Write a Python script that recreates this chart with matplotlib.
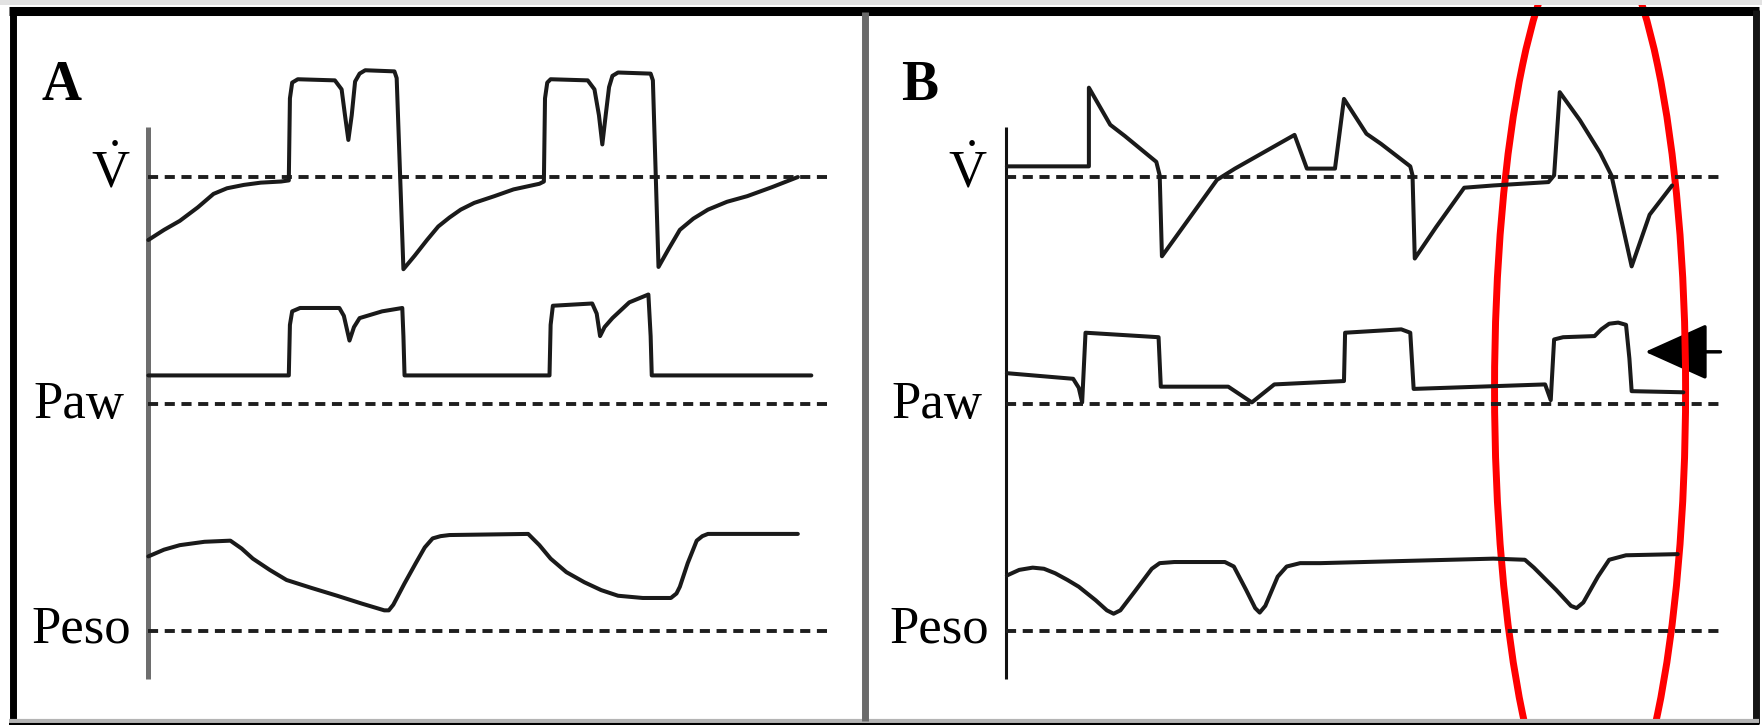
import matplotlib
matplotlib.use('Agg')
import matplotlib.pyplot as plt
from matplotlib.lines import Line2D
from matplotlib.patches import Ellipse, Rectangle, FancyArrowPatch

plt.rcParams['font.family'] = ['Liberation Serif', 'DejaVu Serif']
plt.rcParams['mathtext.fontset'] = 'custom'
plt.rcParams['mathtext.rm'] = 'Liberation Serif'

# ---- Panel A: flow (V'), airway pressure (Paw), oesophageal pressure (Peso) ----
flow_a_t = [0, 14, 28, 44, 58, 70, 85, 100, 118, 125, 126, 128, 133, 166, 172, 175, 178,
            181, 184, 188, 193, 219, 221, 227, 237, 248, 258, 268, 278, 290, 308, 325, 348,
            352, 353, 355, 358, 391, 397, 401, 404, 407, 410, 413, 418, 447, 449, 454, 463,
            473, 485, 498, 515, 533, 555, 578]
flow_a = [-56, -47, -39, -27, -15, -10, -7, -5, -4, -3, 70, 84, 87, 86, 78, 55, 33,
          55, 85, 92, 95, 94, 88, -82, -70, -56, -44, -36, -29, -23, -17, -11, -6,
          -4, 70, 84, 87, 86, 78, 55, 29, 55, 80, 90, 93, 92, 86, -80, -64,
          -47, -37, -29, -22, -17, -9, 0]

paw_a_t = [0, 125, 126, 128, 135, 170, 174, 179, 183, 188, 208, 226, 227, 228, 357, 358, 360,
           395, 399, 402, 406, 413, 428, 445, 447, 448, 590]
paw_a = [25, 25, 70, 82, 85, 85, 78, 56, 68, 76, 82, 85, 60, 25, 25, 70, 87,
         89, 80, 60, 68, 76, 90, 97, 60, 25, 25]

peso_a_t = [0, 14, 28, 50, 73, 83, 93, 108, 123, 145, 168, 190, 210, 214, 218, 228, 238,
            246, 253, 260, 268, 338, 348, 358, 372, 388, 403, 418, 440, 465, 470, 473,
            480, 488, 493, 498, 578]
peso_a = [66, 72, 76, 79, 80, 73, 64, 54, 45, 38, 31, 24, 18, 18, 23, 42, 60,
          74, 82, 84, 85, 86, 76, 64, 52, 43, 36, 31, 29, 29, 33, 39,
          60, 80, 84, 86, 86]

# ---- Panel B ----
flow_b_t = [1, 74, 74, 93, 106, 134, 137, 139, 188, 204, 257, 268, 293, 301, 321, 334, 360,
            362, 364, 383, 408, 434, 483, 488, 493, 511, 529, 539, 557, 573, 593]
flow_b = [9.5, 9.5, 79.5, 46.5, 36.5, 13.5, 1.5, -70.5, -2.5, 7.5, 37.5, 7.5, 7.5, 69.5,
          38.5, 29.5, 9.5, 1.5, -72.5, -44.5, -9.5, -7.5, -4.5, 1.5, 75.5, 50.5, 21.5,
          1.5, -79.5, -33.5, -7.5]

paw_b_t = [1, 60, 65, 68, 71, 136, 138, 198, 219, 239, 301, 302, 352, 360, 363, 480, 485,
           488, 496, 524, 530, 537, 545, 552, 555, 557, 603]
paw_b = [27, 22, 14, 1, 63, 59, 15, 15, 1, 17, 20, 63, 66, 63, 13, 17, 3,
         57, 59, 60, 66, 71, 72, 70, 40, 11, 10]

peso_b_t = [1, 12, 24, 34, 44, 55, 65, 80, 90, 96, 102, 115, 130, 137, 150, 195, 203, 214,
            222, 226, 231, 242, 250, 262, 280, 434, 462, 470, 490, 503, 508, 514, 527, 537,
            552, 598]
peso_b = [49, 54, 56, 55, 51, 45, 39, 27, 18, 15, 18, 35, 55, 60, 61, 61, 57, 36,
          20, 16, 22, 48, 57, 60, 60, 64, 63, 56, 36, 22, 20, 25, 48, 63,
          67, 68]

trace_names = [r'$\dot{\mathrm{V}}$', 'Paw', 'Peso']

# vertical placement of each trace's zero line
FLOW_Y, PAW_Y, PESO_Y = 487.5, 286, 84

fig = plt.figure(figsize=(17.62, 7.25), dpi=100)
fig.patch.set_facecolor('white')

ax_a = fig.add_axes([0, 0, 770 / 1568, 1])
ax_b = fig.add_axes([770 / 1568, 0, 798 / 1568, 1])
ax_a.set_xlim(-132, 638)
ax_b.set_xlim(-125, 673)


def draw_panel(ax, letter, traces, dash_end, axis_color, axis_lw):
    ax.set_ylim(0, 645)
    ax.axis('off')
    ax.plot([0, 0], [41, 532], color=axis_color, lw=axis_lw, solid_capstyle='butt')
    for (level, t, v), name in zip(traces, trace_names):
        ax.plot([0, dash_end], [level, level], color='#1e1e1e', lw=2.8,
                linestyle=(0, (2.6, 1.7)))
        ax.plot(t, [level + y for y in v], color='#1a1a1a', lw=2.9,
                solid_joinstyle='round', solid_capstyle='round')
    ax.text(-77, 556, letter, fontsize=40, fontweight='bold', ha='center', va='baseline')
    ax.text(-33.5, FLOW_Y - 9, trace_names[0], fontsize=38, ha='center', va='baseline')
    ax.text(-21, PAW_Y - 13, trace_names[1], fontsize=38, ha='right', va='baseline')
    ax.text(-15, PESO_Y - 11, trace_names[2], fontsize=38, ha='right', va='baseline')


draw_panel(ax_a, 'A',
           [(FLOW_Y, flow_a_t, flow_a), (PAW_Y, paw_a_t, paw_a), (PESO_Y, peso_a_t, peso_a)],
           605, '#6e6e6e', 3.6)
draw_panel(ax_b, 'B',
           [(FLOW_Y, flow_b_t, flow_b), (PAW_Y, paw_b_t, paw_b), (PESO_Y, peso_b_t, peso_b)],
           639, '#111111', 2.2)

# arrow pointing at the last Paw cycle
ax_b.add_patch(FancyArrowPatch((636, 332), (569, 332),
                               arrowstyle='-|>,head_length=1.0,head_width=0.45',
                               mutation_scale=40, lw=2.5, color='black',
                               shrinkA=0, shrinkB=0))

# red ring around the last breath
ax_b.add_patch(Ellipse((520, 298.5), 170, 816, fill=False, edgecolor='#ff0000',
                       lw=5, clip_on=False))

# outer frame and panel divider
W, H = 1762, 725
fig.add_artist(Rectangle((0, 1 - 5 / H), 1, 5 / H, transform=fig.transFigure,
                         facecolor='#e2e2e2', edgecolor='none'))
frame = [
    ((9 / W, 1759 / W), (1 - 10.5 / H, 1 - 10.5 / H), 'black', 6.5),
    ((12.5 / W, 12.5 / W), (1 - 10 / H, 1 - 724 / H), 'black', 5),
    ((1755.5 / W, 1755.5 / W), (1 - 10 / H, 1 - 724 / H), '#151515', 5),
    ((9 / W, 1759 / W), (1 - 721 / H, 1 - 721 / H), '#b4b4b4', 3),
    ((9 / W, 1759 / W), (1 - 724.3 / H, 1 - 724.3 / H), 'black', 1.5),
    ((864.5 / W, 864.5 / W), (1 - 12 / H, 1 - 721 / H), '#6a6a6a', 5),
]
for xs, ys, c, lw in frame:
    fig.add_artist(Line2D(xs, ys, transform=fig.transFigure, color=c, lw=lw,
                          solid_capstyle='butt'))

fig.savefig('out.png', dpi=100)
